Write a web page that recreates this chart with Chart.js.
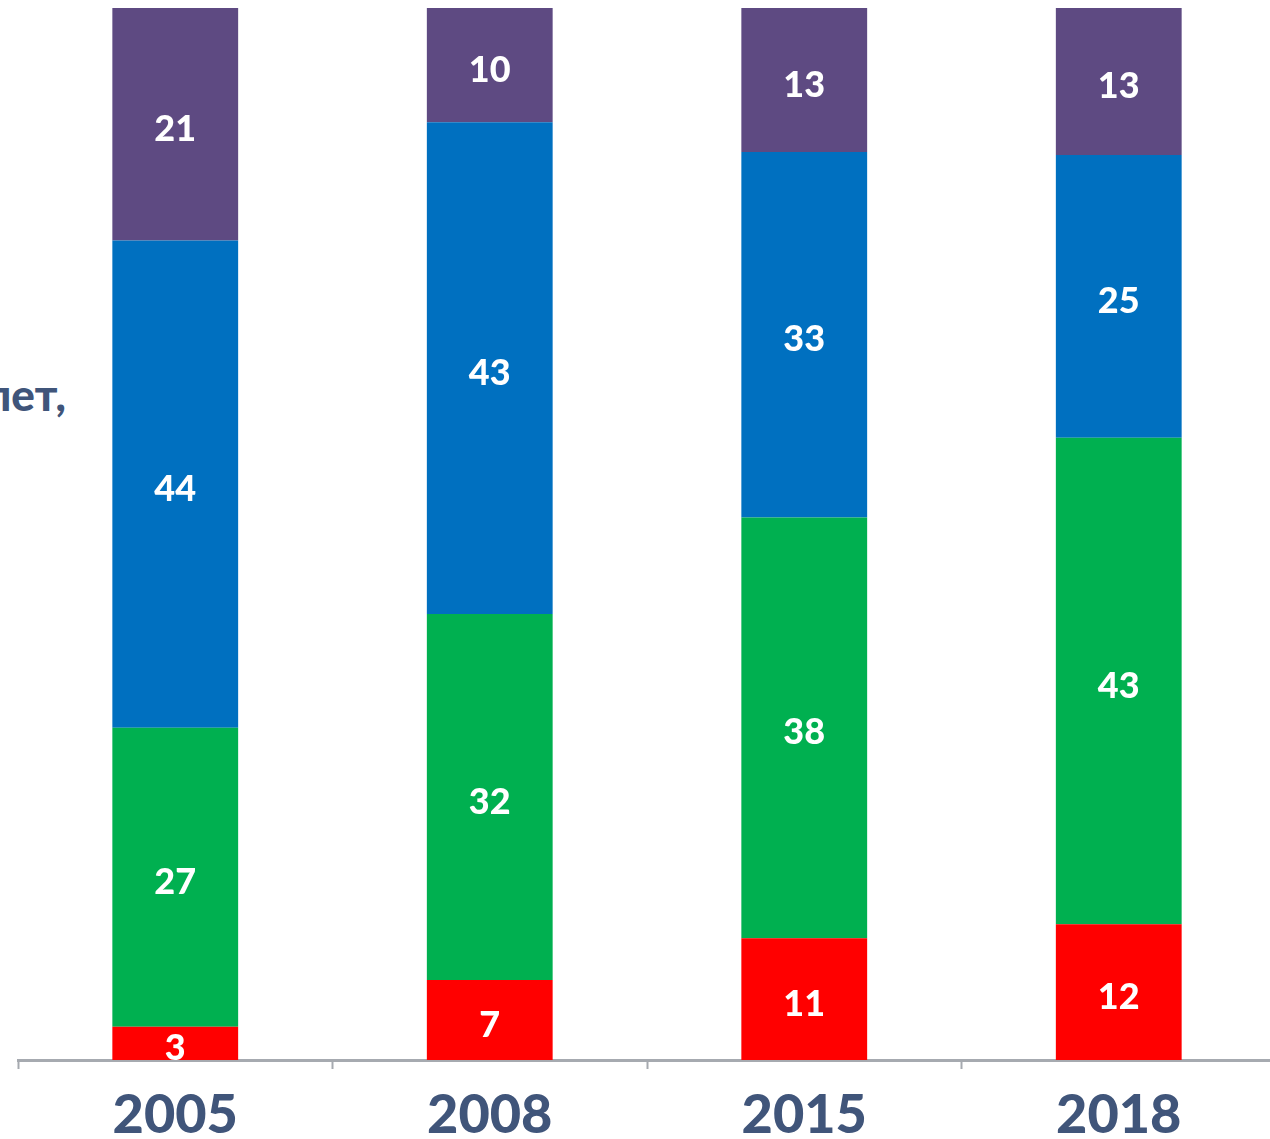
<!DOCTYPE html>
<html>
<head>
<meta charset="utf-8">
<script src="https://cdn.jsdelivr.net/npm/chart.js@4.4.0/dist/chart.umd.min.js"></script>
<style>
  html, body { margin:0; padding:0; background:#fff; width:1270px; height:1139px; overflow:hidden; }
  #wrap { position:absolute; left:0; top:0; width:1290px; height:1139px; }
  #side { position:absolute; top:372px; right:calc(100% - 66px); white-space:nowrap;
          font-family:Lato, "Open Sans", sans-serif; font-weight:900; font-size:44px; color:#40557A; line-height:1; }
</style>
</head>
<body>
<div id="side">лет,</div>
<div id="wrap"><canvas id="c" width="1290" height="1139"></canvas></div>
<script>
const years = ["2005", "2008", "2015", "2018"];
const redValues = [3, 7, 11, 12];
const greenValues = [27, 32, 38, 43];
const blueValues = [44, 43, 33, 25];
const purpleValues = [21, 10, 13, 13];

const seriesValues = [redValues, greenValues, blueValues, purpleValues];
const seriesColors = ["#FF0000", "#00B050", "#0070C0", "#5E4A82"];
const totals = years.map((_, i) => seriesValues.reduce((s, arr) => s + arr[i], 0));

const datasets = seriesValues.map((vals, k) => ({
  data: vals.map((v, i) => v / totals[i] * 100),
  raw: vals,
  backgroundColor: seriesColors[k],
  borderWidth: 0,
  barPercentage: 0.8,
  categoryPercentage: 0.5
}));

const labelPlugin = {
  id: 'barLabels',
  afterDatasetsDraw(chart) {
    const ctx = chart.ctx;
    ctx.save();
    ctx.font = '900 36px Lato, "Open Sans", sans-serif';
    ctx.fillStyle = '#FFFFFF';
    ctx.textAlign = 'center';
    ctx.textBaseline = 'middle';
    chart.data.datasets.forEach((ds, k) => {
      const meta = chart.getDatasetMeta(k);
      meta.data.forEach((bar, i) => {
        const yMid = (bar.y + bar.base) / 2;
        ctx.fillText(String(ds.raw[i]), bar.x, yMid + 5);
      });
    });
    ctx.restore();
  }
};

new Chart(document.getElementById('c'), {
  type: 'bar',
  data: { labels: years, datasets },
  options: {
    responsive: false,
    animation: false,
    layout: { padding: { left: 18, right: 14, top: 8, bottom: 0 } },
    plugins: { legend: { display: false }, tooltip: { enabled: false } },
    scales: {
      x: {
        stacked: true,
        grid: { display: true, drawOnChartArea: false, drawTicks: true, tickLength: 9, tickWidth: 2, color: '#A6AAB0', offset: true },
        border: { display: true, color: '#A6AAB0', width: 3 },
        ticks: { color: '#40557A', font: { family: 'Lato, "Open Sans", sans-serif', weight: '900', size: 54 }, padding: 14 },
        afterFit: (s) => { s.height = 79; }
      },
      y: {
        stacked: true,
        display: false,
        min: 0,
        max: 100
      }
    }
  },
  plugins: [labelPlugin]
});
</script>
</body>
</html>
